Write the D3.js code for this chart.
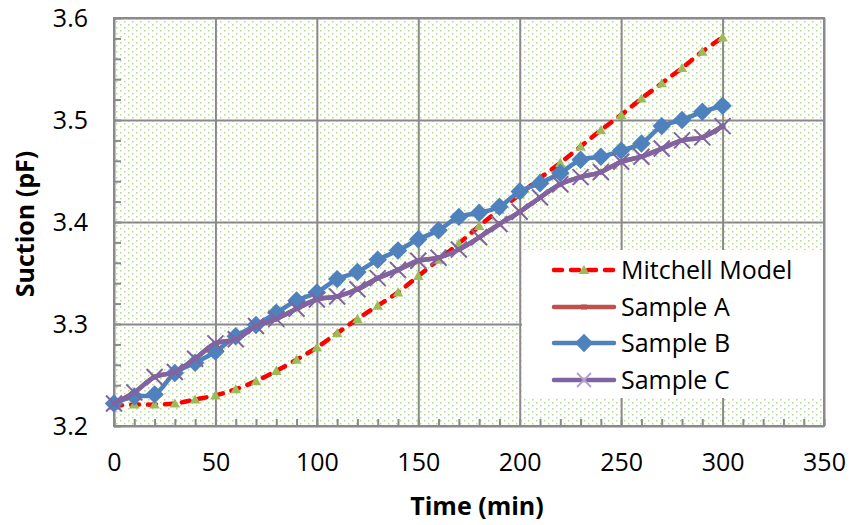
<!DOCTYPE html>
<html>
<head>
<meta charset="utf-8">
<script src="https://cdn.jsdelivr.net/npm/d3@7"></script>
<style>
  html, body { margin: 0; padding: 0; background: #fff; }
  svg { display: block; }
  text { font-family: "Open Sans", "Noto Sans", sans-serif; fill: #000; }
</style>
</head>
<body>
<svg id="chart" width="851" height="525"></svg>
<script>
// Elapsed time in minutes
const times = [0, 10, 20, 30, 40, 50, 60, 70, 80, 90, 100, 110, 120, 130, 140, 150,
               160, 170, 180, 190, 200, 210, 220, 230, 240, 250, 260, 270, 280, 290, 300];

// Suction (pF) per series
const mitchell = [3.220, 3.221, 3.221, 3.222, 3.226, 3.230, 3.236, 3.244, 3.254, 3.265, 3.277,
                  3.291, 3.305, 3.318, 3.331, 3.347, 3.363, 3.379, 3.396, 3.412, 3.427,
                  3.443, 3.458, 3.474, 3.490, 3.505, 3.521, 3.536, 3.551, 3.567, 3.581];
const sampleA = [3.222, 3.233, 3.248, 3.253, 3.266, 3.281, 3.285, 3.298, 3.305, 3.315, 3.324,
                 3.327, 3.334, 3.345, 3.353, 3.362, 3.365, 3.373, 3.385, 3.398, 3.410,
                 3.424, 3.437, 3.444, 3.449, 3.459, 3.464, 3.472, 3.480, 3.483, 3.494];
const sampleB = [3.222, 3.229, 3.231, 3.252, 3.262, 3.273, 3.288, 3.299, 3.311, 3.323, 3.331,
                 3.344, 3.351, 3.363, 3.372, 3.383, 3.392, 3.405, 3.409, 3.415, 3.430,
                 3.438, 3.448, 3.461, 3.464, 3.470, 3.477, 3.494, 3.500, 3.508, 3.514];
const sampleC = [3.222, 3.233, 3.248, 3.253, 3.266, 3.281, 3.285, 3.298, 3.305, 3.315, 3.324,
                 3.327, 3.334, 3.345, 3.353, 3.362, 3.365, 3.373, 3.385, 3.398, 3.410,
                 3.424, 3.437, 3.444, 3.449, 3.459, 3.464, 3.472, 3.480, 3.483, 3.494];

// Axis ticks
const xTicks = [0, 50, 100, 150, 200, 250, 300, 350];
const yTicks = [3.2, 3.3, 3.4, 3.5, 3.6];
const xMinor = [0, 10, 20, 30, 40, 50, 60, 70, 80, 90, 100, 110, 120, 130, 140, 150, 160, 170,
                180, 190, 200, 210, 220, 230, 240, 250, 260, 270, 280, 290, 300, 310, 320, 330, 340, 350];
const yMinor = [3.2, 3.22, 3.24, 3.26, 3.28, 3.3, 3.32, 3.34, 3.36, 3.38, 3.4, 3.42, 3.44,
                3.46, 3.48, 3.5, 3.52, 3.54, 3.56, 3.58, 3.6];

const seriesNames = ["Mitchell Model", "Sample A", "Sample B", "Sample C"];

const plot = { left: 114, right: 824, top: 18, bottom: 426 };
const svg = d3.select("#chart");

const x = d3.scaleLinear().domain([0, 350]).range([plot.left, plot.right]);
const y = d3.scaleLinear().domain([3.2, 3.6]).range([plot.bottom, plot.top]);

const gridColor = "#8a8a8a";

// Dotted green fill of the plot area
const defs = svg.append("defs");
const pat = defs.append("pattern")
  .attr("id", "dots").attr("patternUnits", "userSpaceOnUse")
  .attr("width", 8).attr("height", 6);
pat.append("rect").attr("width", 8).attr("height", 6).attr("fill", "#fff");
pat.append("rect").attr("x", 0).attr("y", 0).attr("width", 1.5).attr("height", 1.5).attr("fill", "#b4dc8a");
pat.append("rect").attr("x", 4).attr("y", 3).attr("width", 1.5).attr("height", 1.5).attr("fill", "#b4dc8a");

svg.append("rect")
  .attr("x", plot.left).attr("y", plot.top)
  .attr("width", plot.right - plot.left).attr("height", plot.bottom - plot.top)
  .attr("fill", "url(#dots)");

// Gridlines
const gx = svg.append("g").attr("transform", `translate(0,${plot.bottom})`)
  .call(d3.axisBottom(x).tickValues(xTicks).tickSize(-(plot.bottom - plot.top)).tickFormat(""));
const gy = svg.append("g").attr("transform", `translate(${plot.left},0)`)
  .call(d3.axisLeft(y).tickValues(yTicks).tickSize(-(plot.right - plot.left)).tickFormat(""));
[gx, gy].forEach(g => {
  g.select(".domain").remove();
  g.selectAll("line").attr("stroke", gridColor).attr("stroke-width", 2);
});

// Minor tick marks, pointing into the plot
const mx = svg.append("g").attr("transform", `translate(0,${plot.bottom})`)
  .call(d3.axisBottom(x).tickValues(xMinor).tickSize(-7).tickFormat(""));
const my = svg.append("g").attr("transform", `translate(${plot.left},0)`)
  .call(d3.axisLeft(y).tickValues(yMinor).tickSize(-7).tickFormat(""));
[mx, my].forEach(g => {
  g.select(".domain").remove();
  g.selectAll("line").attr("stroke", gridColor).attr("stroke-width", 2);
});

// Plot border
svg.append("rect")
  .attr("x", plot.left).attr("y", plot.top)
  .attr("width", plot.right - plot.left).attr("height", plot.bottom - plot.top)
  .attr("fill", "none").attr("stroke", gridColor).attr("stroke-width", 2);

// Tick labels
const xl = svg.append("g").attr("transform", `translate(0,${plot.bottom})`)
  .call(d3.axisBottom(x).tickValues(xTicks).tickSize(0).tickPadding(0).tickFormat(d3.format("d")));
xl.select(".domain").remove();
xl.selectAll("text").attr("dy", null).attr("y", 45)
  .style("font-size", "25px").attr("text-anchor", "middle");

const yl = svg.append("g").attr("transform", `translate(${plot.left},0)`)
  .call(d3.axisLeft(y).tickValues(yTicks).tickSize(0).tickPadding(0).tickFormat(d3.format(".1f")));
yl.select(".domain").remove();
yl.selectAll("text").attr("x", -26).attr("dy", "0.35em")
  .style("font-size", "25px").attr("text-anchor", "end");

// Axis titles
svg.append("text").attr("x", 477).attr("y", 515).attr("text-anchor", "middle")
  .style("font-size", "25px").style("font-weight", "bold").text("Time (min)");
svg.append("text").attr("transform", "translate(34,224) rotate(-90)").attr("text-anchor", "middle")
  .style("font-size", "25px").style("font-weight", "bold").text("Suction (pF)");

// Marker shapes
const triangle = d3.symbol().type(d3.symbolTriangle).size(48);
const diamond = d3.symbol().type(d3.symbolSquare).size(170);
const xMark = r => `M${-r},${-r}L${r},${r}M${-r},${r}L${r},${-r}`;

const line = d3.line().x(d => x(d[0])).y(d => y(d[1])).curve(d3.curveCatmullRom.alpha(0.5));
const pts = vals => times.map((t, i) => [t, vals[i]]);

const seriesStyles = [
  { vals: mitchell, color: "#ff0000", width: 4.5, dash: "8,9", marker: "triangle" },
  { vals: sampleA, color: "#c0504d", width: 4.5, dash: null, marker: "dash" },
  { vals: sampleB, color: "#4f81bd", width: 4.5, dash: null, marker: "diamond" },
  { vals: sampleC, color: "#8064a2", width: 4.5, dash: null, marker: "x" }
];

function drawMarker(g, kind, cx, cy, legend) {
  if (kind === "triangle") {
    g.append("path").attr("d", triangle()).attr("transform", `translate(${cx},${cy + 1})`)
      .attr("fill", "#9bbb59");
  } else if (kind === "diamond") {
    g.append("path").attr("d", diamond()).attr("transform", `translate(${cx},${cy}) rotate(45)`)
      .attr("fill", "#4f81bd");
  } else if (kind === "x") {
    g.append("path").attr("d", xMark(legend ? 7 : 8)).attr("transform", `translate(${cx},${cy})`)
      .attr("stroke", legend ? "#b3a2cc" : "#8064a2").attr("stroke-width", 2).attr("fill", "none");
  } else if (kind === "dash") {
    g.append("path").attr("d", "M-3,0L3,0").attr("transform", `translate(${cx},${cy})`)
      .attr("stroke", "#c0504d").attr("stroke-width", 5);
  }
}

seriesStyles.forEach(s => {
  const g = svg.append("g");
  const p = g.append("path").datum(pts(s.vals)).attr("d", line)
    .attr("fill", "none").attr("stroke", s.color).attr("stroke-width", s.width)
    .attr("stroke-linecap", "round").attr("stroke-linejoin", "round");
  if (s.dash) p.attr("stroke-dasharray", s.dash);
  pts(s.vals).forEach(d => drawMarker(g, s.marker, x(d[0]), y(d[1]), false));
});

// Legend
const legend = svg.append("g");
legend.append("rect").attr("x", 522).attr("y", 250).attr("width", plot.right - 1 - 522).attr("height", 148)
  .attr("fill", "#fff");
const rowY = [270, 307, 343, 380];
seriesStyles.forEach((s, i) => {
  const ly = rowY[i];
  const seg = legend.append("line").attr("x1", 554).attr("x2", 614).attr("y1", ly).attr("y2", ly)
    .attr("stroke", s.color).attr("stroke-width", s.width).attr("stroke-linecap", "round");
  if (s.dash) seg.attr("stroke-dasharray", s.dash);
  drawMarker(legend, s.marker, 584, ly, true);
  legend.append("text").attr("x", 621).attr("y", ly).attr("dy", "0.35em")
    .style("font-size", "25px").text(seriesNames[i]);
});
</script>
</body>
</html>
